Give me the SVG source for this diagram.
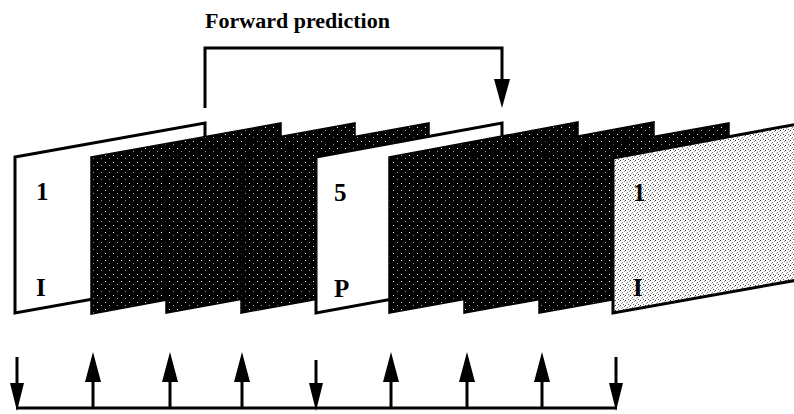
<svg xmlns="http://www.w3.org/2000/svg" width="794" height="414" viewBox="0 0 794 414">
  <style>
    .lbl { font-family: "Liberation Serif", "Times New Roman", serif; font-weight: bold; font-size: 25px; fill: #000; }
    .title { font-family: "Liberation Serif", "Times New Roman", serif; font-weight: bold; font-size: 21px; fill: #000; }
    .white { fill: #fff; stroke: #000; stroke-width: 3; stroke-linejoin: miter; }
    .dark { fill: url(#dark); stroke: #000; stroke-width: 1.5; }
    .gray { fill: url(#gray); stroke: #000; stroke-width: 3; }
    .ln { fill: none; stroke: #000; stroke-width: 3; }
    .head { fill: #000; stroke: none; }
  </style>
  <defs>
    <pattern id="dark" width="8" height="7" patternUnits="userSpaceOnUse">
      <rect width="8" height="7" fill="#000"/>
      <rect x="1" y="1" width="1" height="1" fill="#fff"/>
      <rect x="5" y="4" width="1" height="1" fill="#999"/>
    </pattern>
    <pattern id="gray" width="5" height="5" patternUnits="userSpaceOnUse">
      <rect width="5" height="5" fill="#fff"/>
      <rect x="0" y="0" width="1" height="1" fill="#333"/>
      <rect x="2" y="2" width="1" height="1" fill="#777"/>
      <rect x="4" y="1" width="1" height="1" fill="#999"/>
      <rect x="3" y="4" width="1" height="1" fill="#555"/>
      <rect x="1" y="3" width="1" height="1" fill="#aaa"/>
    </pattern>
  </defs>
  <rect width="794" height="414" fill="#fff"/>

  <text class="title" x="205" y="28" textLength="185" lengthAdjust="spacingAndGlyphs">Forward prediction</text>

  <g id="frame1">
    <polygon class="white" points="15,157 205,123 205,279 15,313"/>
    <text class="lbl" x="36" y="200">1</text>
    <text class="lbl" x="36" y="296">I</text>
  </g>
  <g id="frame2"><polygon class="dark" points="91,157 281,123 281,279 91,314"/></g>
  <g id="frame3"><polygon class="dark" points="166,157 355,123 355,279 166,313"/></g>
  <g id="frame4"><polygon class="dark" points="241,157 429,123 429,279 241,313"/></g>
  <g id="frame5">
    <polygon class="white" points="316,157 502,123 502,279 316,313"/>
    <text class="lbl" x="334" y="201">5</text>
    <text class="lbl" x="334" y="297">P</text>
  </g>
  <g id="frame6"><polygon class="dark" points="389,157 578,122 578,279 389,313"/></g>
  <g id="frame7"><polygon class="dark" points="464,157 654,122 654,279 464,313"/></g>
  <g id="frame8"><polygon class="dark" points="539,157 729,123 729,279 539,313"/></g>
  <g id="frame9">
    <polygon class="gray" points="613,158 803,123 803,279 613,313"/>
    <text class="lbl" x="633" y="201">1</text>
    <text class="lbl" x="633" y="296">I</text>
  </g>

  <g id="connectors">
    <!-- forward prediction bracket -->
    <polyline class="ln" points="205,108 205,48 502,48 502,82"/>
    <polygon class="head" points="494,79 510,79 502,108"/>

    <!-- time axis -->
    <line class="ln" x1="16" y1="408" x2="617" y2="408"/>

    <!-- down arrows (I/P) -->
    <line class="ln" x1="17" y1="357" x2="17" y2="386"/>
    <polygon class="head" points="10,383 24,383 17,411"/>
    <line class="ln" x1="316" y1="360" x2="316" y2="386"/>
    <polygon class="head" points="309,383 323,383 316,411"/>
    <line class="ln" x1="616" y1="357" x2="616" y2="386"/>
    <polygon class="head" points="609,383 623,383 616,411"/>

    <!-- up arrows (B) -->
    <line class="ln" x1="93" y1="380" x2="93" y2="408"/>
    <polygon class="head" points="85,382 101,382 93,352"/>
    <line class="ln" x1="170" y1="380" x2="170" y2="408"/>
    <polygon class="head" points="162,382 178,382 170,352"/>
    <line class="ln" x1="242" y1="380" x2="242" y2="408"/>
    <polygon class="head" points="234,382 250,382 242,352"/>
    <line class="ln" x1="391" y1="380" x2="391" y2="408"/>
    <polygon class="head" points="383,382 399,382 391,352"/>
    <line class="ln" x1="467" y1="380" x2="467" y2="408"/>
    <polygon class="head" points="459,382 475,382 467,352"/>
    <line class="ln" x1="542" y1="380" x2="542" y2="408"/>
    <polygon class="head" points="534,382 550,382 542,352"/>
  </g>
</svg>
